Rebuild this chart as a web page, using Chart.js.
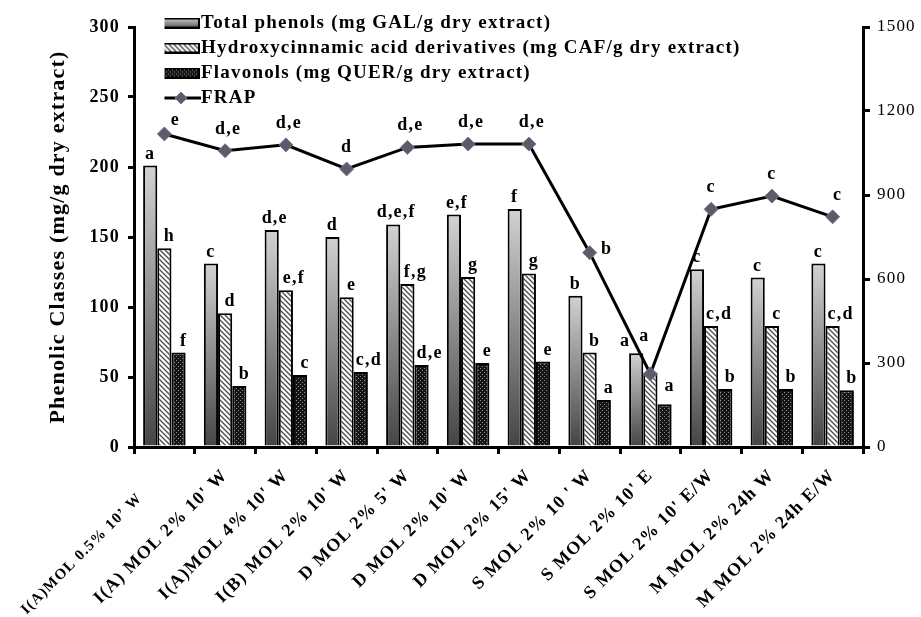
<!DOCTYPE html>
<html>
<head>
<meta charset="utf-8">
<script src="https://cdn.jsdelivr.net/npm/chart.js@4.4.1/dist/chart.umd.min.js"></script>
<style>
  html, body { margin: 0; padding: 0; background: #ffffff; }
  #wrap { width: 921px; height: 617px; }
</style>
</head>
<body>
<div id="wrap"><canvas id="chart" width="921" height="617"></canvas></div>
<script>
// Extraction treatments (x axis)
const categories = [
  "I(A)MOL 0.5% 10\u2019 W       ",
  "I(A) MOL 2% 10' W",
  "I(A)MOL 4% 10' W",
  "I(B) MOL 2% 10' W",
  "D MOL 2% 5' W",
  "D MOL 2% 10' W",
  "D MOL 2% 15' W",
  "S MOL 2% 10 ' W",
  "S MOL 2% 10' E",
  "S MOL 2% 10' E/W",
  "M MOL 2% 24h W",
  "M MOL 2% 24h E/W"
];

// Phenolic classes, mg/g dry extract (left axis)
const totalPhenols = [201, 131, 155, 150, 159, 166, 170, 108, 67, 127, 121, 131];
const hydroxycinnamics = [142, 95.5, 112, 107, 116.5, 121.5, 124, 67.5, 53, 86.5, 86.5, 86.5];
const flavonols = [67.5, 43.5, 51.5, 53.5, 58.5, 60, 61, 33.5, 30.5, 41.5, 41.5, 40.5];

// Antioxidant power (right axis)
const frap = [1118, 1058, 1079, 993, 1070, 1082, 1082, 694, 261, 849, 896, 822];

// Significance letters
const tpLetters = ["a", "c", "d,e", "d", "d,e,f", "e,f", "f", "b", "a", "c", "c", "c"];
const hcLetters = ["h", "d", "e,f", "e", "f,g", "g", "g", "b", "a", "c,d", "c", "c,d"];
const flLetters = ["f", "b", "c", "c,d", "d,e", "e", "e", "a", "a", "b", "b", "b"];
const frapLetters = ["e", "d,e", "d,e", "d", "d,e", "d,e", "d,e", "b", "", "c", "c", "c"];

// Axis ticks
const leftTicks = [0, 50, 100, 150, 200, 250, 300];
const rightTicks = [0, 300, 600, 900, 1200, 1500];

const SERIF = '"Liberation Serif", "Times New Roman", serif';
const TRACKING = '1.2px';

// ---- fills ----
function makeTile(w, h, paint) {
  const c = document.createElement('canvas');
  c.width = w; c.height = h;
  paint(c.getContext('2d'), w, h);
  return c;
}
const hatchTile = makeTile(5, 5, (g, w, h) => {
  g.fillStyle = '#ffffff'; g.fillRect(0, 0, w, h);
  g.strokeStyle = '#4a4a4a'; g.lineWidth = 1.3;
  g.beginPath();
  g.moveTo(-1, -1); g.lineTo(w + 1, h + 1);
  g.moveTo(-1, h - 1); g.lineTo(1, h + 1);
  g.moveTo(w - 1, -1); g.lineTo(w + 1, 1);
  g.stroke();
});
const dotTile = makeTile(4, 4, (g) => {
  g.fillStyle = '#151515'; g.fillRect(0, 0, 4, 4);
  g.fillStyle = '#8a8a8a';
  g.fillRect(0, 0, 1, 1); g.fillRect(2, 2, 1, 1);
});
const scratch = document.createElement('canvas').getContext('2d');
const hatchFill = scratch.createPattern(hatchTile, 'repeat');
const dotFill = scratch.createPattern(dotTile, 'repeat');

function barGradient(context) {
  const chart = context.chart;
  const y = chart.scales && chart.scales.y;
  if (!chart.chartArea || !y) return '#888888';
  const top = y.getPixelForValue(context.raw);
  const bottom = y.getPixelForValue(0);
  const g = chart.ctx.createLinearGradient(0, top, 0, bottom);
  g.addColorStop(0, '#d2d2d2');
  g.addColorStop(1, '#444444');
  return g;
}

// ---- legend swatches ----
const swatchTP = makeTile(38, 11, (g, w, h) => {
  const gr = g.createLinearGradient(0, 0, 0, h);
  gr.addColorStop(0, '#cfcfcf'); gr.addColorStop(1, '#555555');
  g.fillStyle = gr; g.fillRect(0, 0, w, h);
  g.strokeStyle = '#000'; g.lineWidth = 2; g.strokeRect(1, 1, w - 2, h - 2);
});
const swatchHC = makeTile(38, 11, (g, w, h) => {
  g.fillStyle = g.createPattern(hatchTile, 'repeat'); g.fillRect(0, 0, w, h);
  g.strokeStyle = '#000'; g.lineWidth = 2; g.strokeRect(1, 1, w - 2, h - 2);
});
const swatchFL = makeTile(38, 11, (g, w, h) => {
  g.fillStyle = g.createPattern(dotTile, 'repeat'); g.fillRect(0, 0, w, h);
  g.strokeStyle = '#000'; g.lineWidth = 2; g.strokeRect(1, 1, w - 2, h - 2);
});
const swatchFRAP = makeTile(40, 16, (g, w, h) => {
  g.strokeStyle = '#000'; g.lineWidth = 3;
  g.beginPath(); g.moveTo(0, h / 2); g.lineTo(w, h / 2); g.stroke();
  g.fillStyle = '#5f5a68'; g.strokeStyle = '#7d6f98'; g.lineWidth = 1;
  g.beginPath();
  g.moveTo(w / 2, h / 2 - 6); g.lineTo(w / 2 + 6, h / 2); g.lineTo(w / 2, h / 2 + 6); g.lineTo(w / 2 - 6, h / 2);
  g.closePath(); g.fill(); g.stroke();
});
const swatches = [swatchTP, swatchHC, swatchFL, swatchFRAP];

// ---- letters above bars and points ----
const letterSets = [
  { key: 'tp', index: 0, letters: tpLetters, dx: 0, dy: -7 },
  { key: 'hc', index: 1, letters: hcLetters, dx: 5, dy: -7 },
  { key: 'fl', index: 2, letters: flLetters, dx: 5, dy: -7 },
  { key: 'frap', index: 3, letters: frapLetters, dx: 0, dy: -17 }
];
const letterNudges = {
  tp8: [-11, 0], hc8: [-11, -25], fl8: [0, -6],
  frap0: [11, 8], frap7: [17, 18], frap11: [5, 0]
};
const letterPlugin = {
  id: 'letters',
  afterDatasetsDraw(chart) {
    const ctx = chart.ctx;
    ctx.save();
    ctx.font = 'bold 18px ' + SERIF;
    ctx.fillStyle = '#000';
    ctx.textAlign = 'center';
    ctx.textBaseline = 'alphabetic';
    letterSets.forEach(set => {
      const meta = chart.getDatasetMeta(set.index);
      meta.data.forEach((el, i) => {
        const txt = set.letters[i];
        if (!txt) return;
        const n = letterNudges[set.key + i] || [0, 0];
        const extra = txt.length > 1 ? 3 : 0;
        ctx.fillText(txt, el.x + set.dx + extra + n[0], el.y + set.dy + n[1]);
      });
    });
    ctx.restore();
  }
};

// wide, tracked lettering for every text on the canvas
const tracking = {
  id: 'tracking',
  beforeUpdate(chart) { chart.ctx.letterSpacing = TRACKING; },
  beforeDraw(chart) { chart.ctx.letterSpacing = TRACKING; }
};

// legend sits inside the plot, high at the top-left corner;
// the left axis box keeps a fixed 134px band from the canvas edge
const layoutTweaks = {
  id: 'layoutTweaks',
  afterLayout(chart) {
    const ys = chart.scales.y;
    ys.left = ys.right - 134;
    ys.width = 134;
    const lg = chart.legend;
    if (!lg) return;
    lg.top = chart.chartArea.top - 19.5;
    lg.left = chart.chartArea.left + 30.5;
  }
};

new Chart(document.getElementById('chart'), {
  data: {
    labels: categories,
    datasets: [
      { type: 'bar', label: 'Total phenols (mg GAL/g dry extract)', data: totalPhenols, yAxisID: 'y',
        backgroundColor: barGradient, borderColor: '#000', borderWidth: 2, order: 1 },
      { type: 'bar', label: 'Hydroxycinnamic acid derivatives (mg CAF/g dry extract)', data: hydroxycinnamics, yAxisID: 'y',
        backgroundColor: hatchFill, borderColor: '#000', borderWidth: 2, order: 1 },
      { type: 'bar', label: 'Flavonols (mg QUER/g dry extract)', data: flavonols, yAxisID: 'y',
        backgroundColor: dotFill, borderColor: '#000', borderWidth: 2, order: 1 },
      { type: 'line', label: 'FRAP', data: frap, yAxisID: 'y1',
        borderColor: '#000', borderWidth: 3, tension: 0, fill: false,
        pointStyle: 'rectRot', pointRadius: 7, pointBackgroundColor: '#5f5a68',
        pointBorderColor: '#7d6f98', pointBorderWidth: 1, order: 0 }
    ]
  },
  options: {
    responsive: false,
    animation: false,
    devicePixelRatio: 1,
    layout: { padding: { top: 27, right: 0, bottom: 0, left: 0 } },
    datasets: { bar: { categoryPercentage: 0.7, barPercentage: 1.0 } },
    plugins: {
      tooltip: { enabled: false },
      legend: {
        position: 'chartArea',
        align: 'start',
        labels: {
          usePointStyle: true,
          pointStyleWidth: 21,
          padding: 6,
          color: '#000',
          font: { family: SERIF, size: 19, weight: 'bold' },
          sort: (a, b) => a.datasetIndex - b.datasetIndex,
          generateLabels(chart) {
            const items = Chart.defaults.plugins.legend.labels.generateLabels(chart);
            items.forEach(it => { it.pointStyle = swatches[it.datasetIndex]; });
            return items;
          }
        }
      }
    },
    scales: {
      x: {
        offset: true,
        grid: { display: true, offset: true, drawOnChartArea: false, drawTicks: true, tickLength: 7, color: '#000', lineWidth: 3 },
        border: { display: true, color: '#000', width: 3 },
        ticks: { color: '#000', autoSkip: false, minRotation: 45, maxRotation: 45, padding: 11,
                 font: (c) => ({ family: SERIF, size: c.index === 0 ? 15 : 18, weight: 'bold' }) },
        afterFit(s) { s.height = 170; s.paddingLeft = 0; s.paddingRight = 0; }
      },
      y: {
        position: 'left', min: 0, max: 300,
        afterBuildTicks(s) { s.ticks = leftTicks.map(v => ({ value: v })); },
        grid: { drawOnChartArea: false, drawTicks: true, tickLength: 6, color: '#000', lineWidth: 3 },
        border: { display: true, color: '#000', width: 3 },
        ticks: { color: '#000', padding: 8, font: { family: SERIF, size: 18, weight: 'bold' } },
        title: { display: true, text: 'Phenolic Classes (mg/g dry extract)', color: '#000',
                 font: { family: SERIF, size: 22, weight: 'bold' }, padding: { top: 45, bottom: 0 } },
        afterFit(s) { s.width = 134; }
      },
      y1: {
        position: 'right', min: 0, max: 1500,
        afterBuildTicks(s) { s.ticks = rightTicks.map(v => ({ value: v })); },
        grid: { drawOnChartArea: false, drawTicks: true, tickLength: 7, color: '#000', lineWidth: 3 },
        border: { display: true, color: '#000', width: 3 },
        ticks: { color: '#000', padding: 7, font: { family: SERIF, size: 17 },
                 callback: (v) => String(v) },
        afterFit(s) { s.width = 58; }
      }
    }
  },
  plugins: [tracking, letterPlugin, layoutTweaks]
});
</script>
</body>
</html>
